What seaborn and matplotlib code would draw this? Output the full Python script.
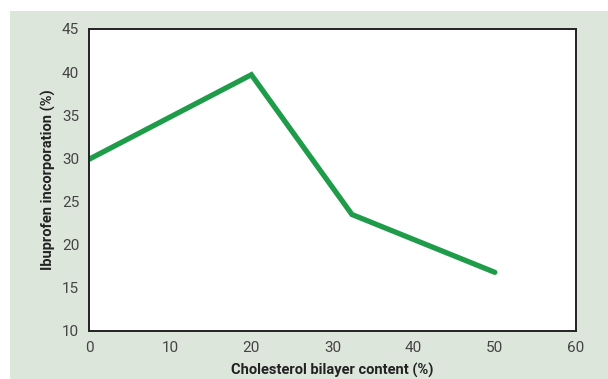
import matplotlib
matplotlib.use("Agg")
import matplotlib.pyplot as plt
import seaborn as sns
import pandas as pd
from matplotlib.patches import Rectangle

cholesterol = [0, 20, 32.4, 50]
ibuprofen = [29.9, 39.7, 23.5, 16.8]
x_ticks = [0, 10, 20, 30, 40, 50, 60]
y_ticks = [10, 15, 20, 25, 30, 35, 40, 45]

df = pd.DataFrame({"x": cholesterol, "y": ibuprofen})

sns.set_style("white")
plt.rcParams['font.family'] = ['Roboto', 'DejaVu Sans']

fig = plt.figure(figsize=(6.08, 3.79), dpi=100)
fig.patch.set_facecolor("white")
fig.patches.append(Rectangle((10/608, 0), 1 - 10/608, 1 - 11/379,
                             transform=fig.transFigure, facecolor="#dce6da",
                             edgecolor="none", zorder=-10))
ax = fig.add_axes([89/608, 1 - 331/379, (576-89)/608, (331-29)/379])
ax.set_facecolor("white")

sns.lineplot(data=df, x="x", y="y", ax=ax, color="#1f9c4a", linewidth=3.8,
             solid_joinstyle="miter")

ax.set_xlim(0, 60)
ax.set_ylim(10, 45)
ax.set_xticks(x_ticks)
ax.set_yticks(y_ticks)
ax.tick_params(axis="both", length=0, labelsize=11, colors="#444444", pad=7)
for s in ax.spines.values():
    s.set_color("#222222")
    s.set_linewidth(1.4)
    s.set_visible(True)
ax.set_xlabel("Cholesterol bilayer content (%)", fontsize=10.5, fontweight="bold",
              color="#222222", labelpad=6)
ax.set_ylabel("Ibuprofen incorporation (%)", fontsize=10.5, fontweight="bold",
              color="#222222", labelpad=4)

fig.savefig("out.png", dpi=100)
